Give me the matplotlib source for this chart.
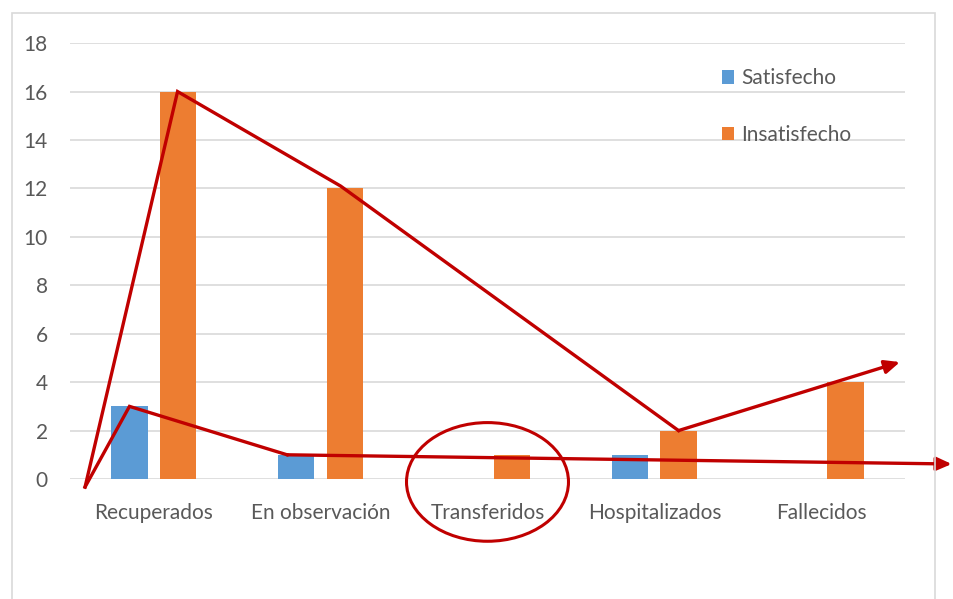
import matplotlib.pyplot as plt
import numpy as np
from matplotlib.patches import Ellipse, Rectangle

categories = ["Recuperados", "En observación", "Transferidos", "Hospitalizados", "Fallecidos"]
satisfecho = [3, 1, 0, 1, 0]
insatisfecho = [16, 12, 1, 2, 4]
yticks = [0, 2, 4, 6, 8, 10, 12, 14, 16, 18]

BLUE = "#5B9BD5"
ORANGE = "#ED7D31"
RED = "#C00000"
GREY = "#595959"

plt.rcParams["font.family"] = ["Lato", "DejaVu Sans"]

fig = plt.figure(figsize=(9.54, 5.99), dpi=100)
ax = fig.add_axes([0.0734, 0.2003, 0.8752, 0.7277])

x = np.arange(len(categories))
w = 0.216
off = 0.144
ax.bar(x - off, satisfecho, w, color=BLUE, label="Satisfecho", zorder=2)
ax.bar(x + off, insatisfecho, w, color=ORANGE, label="Insatisfecho", zorder=2)

ax.set_xlim(-0.5, len(categories) - 0.5)
ax.set_ylim(0, 18)
ax.set_yticks(yticks)
ax.set_xticks(x)
ax.set_xticklabels(categories)
ax.tick_params(axis="both", length=0, labelsize=15, colors=GREY)
ax.tick_params(axis="x", pad=17)
ax.tick_params(axis="y", pad=16)
ax.grid(axis="y", color="#D9D9D9", linewidth=1.2, zorder=0)
for s in ax.spines.values():
    s.set_visible(False)

leg = ax.legend(loc="upper left", bbox_to_anchor=(0.758, 0.985), frameon=False,
                fontsize=15, labelspacing=1.75, handlelength=0.6, handleheight=0.6,
                handletextpad=0.35)
for t in leg.get_texts():
    t.set_color(GREY)

# chart border
fig.patches.append(Rectangle((0.0126, -0.05), 0.967, 1.028, transform=fig.transFigure,
                             fill=False, edgecolor="#D9D9D9", linewidth=1.2))

# hand-drawn red annotations (data units)
start = (-0.41, -0.33)
trend_top = [start, (x[0] + off, insatisfecho[0]), (x[1] + 0.12, insatisfecho[1] + 0.1),
             (x[3] + off, insatisfecho[3])]
trend_low = [start, (x[0] - off, satisfecho[0]), (x[1] - 0.2, satisfecho[1])]
lk = dict(color=RED, linewidth=2.4, clip_on=False, zorder=5, solid_joinstyle="miter")
tx, ty = zip(*trend_top)
ax.plot(tx, ty, **lk)
lx, ly = zip(*trend_low)
ax.plot(lx, ly, **lk)
ap = dict(arrowstyle="-|>,head_length=0.9,head_width=0.4", color=RED, linewidth=2.4,
          shrinkA=0, shrinkB=0)
ax.annotate("", xy=(4.47, 4.83), xytext=trend_top[-1], arrowprops=ap,
            annotation_clip=False, zorder=5)
ax.annotate("", xy=(4.78, 0.62), xytext=trend_low[-1], arrowprops=ap,
            annotation_clip=False, zorder=5)
ax.add_patch(Ellipse((2.0, -0.12), 0.97, 4.9, fill=False, edgecolor=RED,
                     linewidth=2.2, clip_on=False, zorder=5))

fig.savefig("out.png", dpi=100)
